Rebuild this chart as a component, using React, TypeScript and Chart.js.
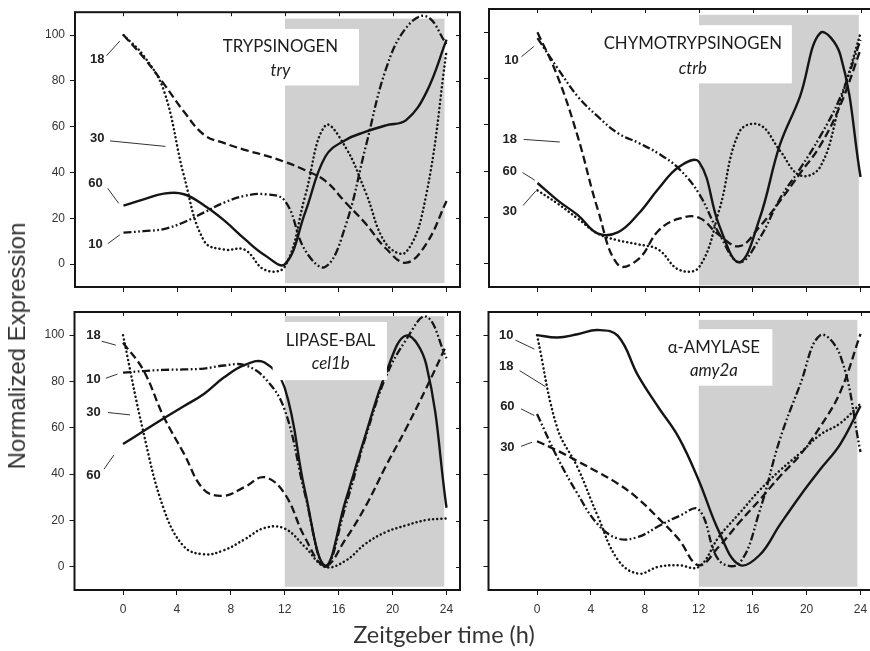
import React, { useEffect, useRef } from "react";
import { Chart, registerables } from "chart.js";

Chart.register(...registerables);

// ---------- data ----------
const hours = [0, 1.5, 3, 4.5, 6, 7.5, 9, 10.5, 12, 13.5, 15, 16.5, 18, 19.5, 21, 22.5, 24];
const xTickValues = [0, 4, 8, 12, 16, 20, 24];
const yTickValues = [0, 20, 40, 60, 80, 100];
const seriesNames = ["10", "18", "30", "60"];

// TRYPSINOGEN (try)
const try10 = [13.7, 14.4, 15.3, 18.3, 22.6, 26.9, 29.8, 30.5, 27.6, 6, -1.2, 16.8, 51.4, 85.2, 103.2, 108.2, 96];
const try18 = [100, 90.2, 78.7, 66.5, 56.4, 52.8, 49.9, 47.5, 44.6, 41, 36.3, 26.9, 17.6, 6.8, 0.6, 8.9, 27.6];
const try30 = [100, 91, 75.8, 38.4, 10, 6.3, 6.3, -2.5, -1, 29.8, 60.5, 51, 31.2, 8.9, 5.3, 30.5, 93];
const try60 = [25.5, 28.3, 30.8, 30.5, 25.6, 19, 11, 3.9, 0, 22.6, 47, 54.2, 57.8, 60.6, 62.9, 75, 98];

// CHYMOTRYPSINOGEN (ctrb)
const ctrb10 = [97.4, 84.4, 72.2, 63.5, 56.3, 52.2, 47.6, 41.1, 30.3, 13, 0.7, 11, 28, 41, 55, 72, 96.7];
const ctrb18 = [100, 80.8, 54.8, 23.1, -0.5, 2, 14.4, 19.5, 19.9, 12.4, 7.6, 16, 27, 39, 51, 68.5, 92.5];
const ctrb30 = [31.7, 26, 19.5, 13, 10.1, 8.4, 6.1, -2.5, -1.5, 23.1, 57, 60, 49, 38.2, 41.8, 70, 99.6];
const ctrb60 = [34.9, 27.4, 21, 13, 13.7, 21.6, 32.5, 41.8, 44, 16.6, 0.7, 19.5, 51.2, 72.2, 99.6, 90.2, 37.5];

// LIPASE-BAL (cel1b)
const cel10 = [83.8, 84.5, 85, 85.2, 85.6, 86.9, 87.1, 81.6, 67.7, 31.3, 0, 26, 56, 82, 98, 108, 90];
const cel18 = [96.7, 85, 65, 49.1, 33.3, 30.7, 34.4, 38.7, 31.5, 12.6, 0.5, 11.9, 26.2, 43.5, 59.7, 77.2, 95.8];
const cel30 = [100, 58.4, 25.4, 8.9, 5.4, 7.2, 11.8, 16.8, 16.5, 8.6, 0, 2.6, 10, 15, 17.9, 20.2, 20.9];
const cel60 = [53, 58.5, 64, 69.3, 74.6, 81.8, 87.1, 88.2, 77.2, 32.7, 0.5, 28.4, 57.1, 83.6, 99.8, 87.2, 25.5];

// alpha-AMYLASE (amy2a)
const amy10 = [100, 99, 100.4, 102.2, 99.7, 82.5, 68.9, 56, 37.3, 15.2, 0.9, 5, 18, 30.5, 42, 53, 69.5];
const amy18 = [100, 60, 43, 22, 3, -2.9, 0, 0.7, 0, 13, 23, 33, 41.5, 49, 57, 62, 70.5];
const amy30 = [54.2, 50.2, 45.6, 40.9, 35.9, 29.4, 21, 12, 0.7, 8.8, 19.1, 28.8, 38.9, 48.2, 60.4, 75.5, 100.6];
const amy60 = [66, 47.3, 31.6, 18.4, 12.2, 12.9, 17.5, 21.8, 24.7, 2.8, 1.5, 23.8, 54.7, 78.3, 99.9, 91.2, 49.6];

// ---------- styling / layout ----------
const CW = 880;
const CH = 651;
const INK = "#151515";
const SHADE = "#d0d0d0";
const TICK_FONT = "'Liberation Sans', Arial, sans-serif";
const TITLE_FONT = "Lato, 'Open Sans', sans-serif";

type LineStyle = "solid" | "dash" | "dot" | "dashdot";
const STYLES: Record<LineStyle, any> = {
  solid: { borderWidth: 2.4, borderDash: [], borderCapStyle: "butt" },
  dash: { borderWidth: 2.3, borderDash: [8, 4], borderCapStyle: "butt" },
  dot: { borderWidth: 2.5, borderDash: [0.1, 4.1], borderCapStyle: "round" },
  dashdot: { borderWidth: 2.3, borderDash: [8, 2.5, 1.8, 2.5, 1.8, 2.5], borderCapStyle: "butt" },
};

type Tag = { t: string; at: [number, number]; line: [number, number, number, number] };
type PanelCfg = {
  id: string;
  title: string;
  gene: string;
  series: Record<string, number[]>;
  styles: Record<string, LineStyle>;
  area: { left: number; top: number; right: number; bottom: number };
  xLabels: boolean;
  yLabels: boolean;
  titleAt: [number, number];
  geneAt: [number, number];
  box: [number, number, number, number];
  shade: [number, number, number, number];
  tags: Tag[];
};

const panels: PanelCfg[] = [
  {
    id: "try",
    title: "TRYPSINOGEN",
    gene: "try",
    series: { "10": try10, "18": try18, "30": try30, "60": try60 },
    styles: { "10": "dashdot", "18": "dash", "30": "dot", "60": "solid" },
    area: { left: 75, top: 9, right: 460, bottom: 287 },
    xLabels: false,
    yLabels: true,
    titleAt: [11.66, 95],
    geneAt: [11.66, 84.6],
    box: [5.8, 17.5, 78, 102.7],
    shade: [12, 23.85, -8.3, 107.2],
    tags: [
      { t: "18", at: [-1.95, 89.5], line: [-1.26, 91, -0.27, 97.4] },
      { t: "30", at: [-1.95, 54.7], line: [-1.0, 53.8, 3.12, 51.4] },
      { t: "60", at: [-2.08, 35.1], line: [-1.17, 33.1, -0.35, 26.5] },
      { t: "10", at: [-2.08, 8.5], line: [-1.17, 8.9, -0.27, 12.8] },
    ],
  },
  {
    id: "ctrb",
    title: "CHYMOTRYPSINOGEN",
    gene: "ctrb",
    series: { "10": ctrb10, "18": ctrb18, "30": ctrb30, "60": ctrb60 },
    styles: { "10": "dashdot", "18": "dash", "30": "dot", "60": "solid" },
    area: { left: 489, top: 9, right: 874, bottom: 287 },
    xLabels: false,
    yLabels: false,
    titleAt: [11.54, 95.2],
    geneAt: [11.54, 84.4],
    box: [4.2, 18.9, 77.9, 103],
    shade: [12, 23.87, -9.3, 107.5],
    tags: [
      { t: "10", at: [-1.93, 87.7], line: [-1.19, 89.4, -0.27, 93.8] },
      { t: "18", at: [-2.06, 53.7], line: [-1.02, 53.7, 1.66, 52.6] },
      { t: "60", at: [-2.06, 39.7], line: [-1.11, 39.4, -0.2, 36.1] },
      { t: "30", at: [-2.06, 22.6], line: [-1.07, 25.2, -0.13, 31.4] },
    ],
  },
  {
    id: "cel1b",
    title: "LIPASE-BAL",
    gene: "cel1b",
    series: { "10": cel10, "18": cel18, "30": cel30, "60": cel60 },
    styles: { "10": "dashdot", "18": "dash", "30": "dot", "60": "solid" },
    area: { left: 74.5, top: 312, right: 460, bottom: 590 },
    xLabels: true,
    yLabels: true,
    titleAt: [15.4, 97.8],
    geneAt: [15.4, 87.8],
    box: [11.1, 19.58, 80.6, 105.7],
    shade: [12, 23.83, -8.6, 108.2],
    tags: [
      { t: "18", at: [-2.19, 100], line: [-1.58, 97.4, -0.54, 95.7] },
      { t: "10", at: [-2.19, 81], line: [-1.28, 81.4, -0.41, 83.2] },
      { t: "30", at: [-2.19, 66.6], line: [-1.11, 66.6, 0.52, 65.6] },
      { t: "60", at: [-2.19, 39.4], line: [-1.41, 42.2, -0.67, 48.3] },
    ],
  },
  {
    id: "amy2a",
    title: "\u03b1-AMYLASE",
    gene: "amy2a",
    series: { "10": amy10, "18": amy18, "30": amy30, "60": amy60 },
    styles: { "10": "solid", "18": "dot", "30": "dash", "60": "dashdot" },
    area: { left: 488.5, top: 312, right: 874, bottom: 590 },
    xLabels: true,
    yLabels: false,
    titleAt: [13.12, 94.7],
    geneAt: [13.12, 84.7],
    box: [8.8, 17.46, 78.2, 102.6],
    shade: [12, 23.77, -8.6, 106.6],
    tags: [
      { t: "10", at: [-2.28, 100], line: [-1.61, 97.9, -0.2, 94] },
      { t: "18", at: [-2.28, 86.4], line: [-1.29, 84.7, 0.62, 77.8] },
      { t: "60", at: [-2.2, 69.2], line: [-1.19, 68.2, -0.2, 65.3] },
      { t: "30", at: [-2.2, 51.7], line: [-1.19, 52, -0.37, 53.8] },
    ],
  },
];

const Y_AXIS_W = 60;
const X_AXIS_H = 30;

function makeChart(canvas: HTMLCanvasElement, cfg: PanelCfg) {
  const { area } = cfg;
  const decor = {
    id: "decor_" + cfg.id,
    beforeDatasetsDraw(chart: any) {
      const { ctx } = chart;
      const x = chart.scales.x;
      const y = chart.scales.y;
      const [sx0, sx1, sy0, sy1] = cfg.shade;
      const L = x.getPixelForValue(sx0);
      const R = x.getPixelForValue(sx1);
      const T = y.getPixelForValue(sy1);
      const B = y.getPixelForValue(sy0);
      ctx.save();
      ctx.fillStyle = SHADE;
      ctx.fillRect(L, T, R - L, B - T);
      ctx.restore();
    },
    afterDatasetsDraw(chart: any) {
      const { ctx, chartArea } = chart;
      const x = chart.scales.x;
      const y = chart.scales.y;
      ctx.save();
      // white title box
      const [bx0, bx1, by0, by1] = cfg.box;
      const L = x.getPixelForValue(bx0);
      const R = x.getPixelForValue(bx1);
      const T = y.getPixelForValue(by1);
      const B = y.getPixelForValue(by0);
      ctx.fillStyle = "#ffffff";
      ctx.fillRect(L, T, R - L, B - T);
      ctx.fillStyle = "#1c1c1c";
      ctx.textAlign = "center";
      ctx.textBaseline = "middle";
      ctx.font = `16.8px ${TITLE_FONT}`;
      ctx.fillText(cfg.title, x.getPixelForValue(cfg.titleAt[0]), y.getPixelForValue(cfg.titleAt[1]));
      ctx.font = `italic 16.8px ${TITLE_FONT}`;
      ctx.fillText(cfg.gene, x.getPixelForValue(cfg.geneAt[0]), y.getPixelForValue(cfg.geneAt[1]));

      // series tags with leader lines
      ctx.strokeStyle = "#333";
      ctx.lineWidth = 1;
      ctx.font = `bold 13px ${TICK_FONT}`;
      ctx.fillStyle = "#222";
      for (const tag of cfg.tags) {
        ctx.fillText(tag.t, x.getPixelForValue(tag.at[0]), y.getPixelForValue(tag.at[1]));
        ctx.beginPath();
        ctx.moveTo(x.getPixelForValue(tag.line[0]), y.getPixelForValue(tag.line[1]));
        ctx.lineTo(x.getPixelForValue(tag.line[2]), y.getPixelForValue(tag.line[3]));
        ctx.stroke();
      }

      // frame
      ctx.strokeStyle = INK;
      ctx.lineWidth = 2;
      ctx.strokeRect(chartArea.left, chartArea.top, chartArea.right - chartArea.left, chartArea.bottom - chartArea.top);

      // inner ticks on top and right
      ctx.lineWidth = 1;
      ctx.beginPath();
      for (const v of xTickValues) {
        const px = Math.round(x.getPixelForValue(v)) + 0.5;
        ctx.moveTo(px, chartArea.top);
        ctx.lineTo(px, chartArea.top + 4);
      }
      for (const v of yTickValues) {
        const py = Math.round(y.getPixelForValue(v)) + 0.5;
        ctx.moveTo(chartArea.right, py);
        ctx.lineTo(chartArea.right - 4, py);
      }
      ctx.stroke();
      ctx.restore();
    },
  };

  const datasets = seriesNames.map((name) => {
    const vals = cfg.series[name];
    const st = STYLES[cfg.styles[name]];
    return {
      label: name,
      data: hours.map((h, i) => ({ x: h, y: vals[i] })),
      borderColor: INK,
      backgroundColor: INK,
      borderWidth: st.borderWidth,
      borderDash: st.borderDash,
      borderCapStyle: st.borderCapStyle,
      borderJoinStyle: "round",
      pointRadius: 0,
      pointHoverRadius: 0,
      tension: 0.4,
      fill: false,
    };
  });

  return new Chart(canvas, {
    type: "line",
    data: { datasets } as any,
    options: {
      responsive: false,
      animation: false,
      events: [],
      layout: {
        padding: {
          left: area.left - Y_AXIS_W,
          top: area.top,
          right: CW - area.right,
          bottom: CH - area.bottom - X_AXIS_H,
        },
      },
      plugins: {
        legend: { display: false },
        tooltip: { enabled: false },
        title: { display: false },
      },
      scales: {
        x: {
          type: "linear",
          min: -3.6,
          max: 25,
          afterBuildTicks: (s: any) => {
            s.ticks = xTickValues.map((v) => ({ value: v }));
          },
          afterFit: (s: any) => {
            s.height = X_AXIS_H;
          },
          ticks: {
            display: cfg.xLabels,
            autoSkip: false,
            maxRotation: 0,
            padding: 7,
            color: "#333",
            font: { family: TICK_FONT, size: 12 },
          },
          grid: {
            display: true,
            drawOnChartArea: false,
            drawTicks: true,
            tickLength: 5,
            color: INK,
            lineWidth: 1,
          },
          border: { display: false },
        },
        y: {
          type: "linear",
          min: -10,
          max: 110,
          afterBuildTicks: (s: any) => {
            s.ticks = yTickValues.map((v) => ({ value: v }));
          },
          afterFit: (s: any) => {
            s.width = Y_AXIS_W;
          },
          ticks: {
            display: cfg.yLabels,
            autoSkip: false,
            padding: 5,
            color: "#333",
            font: { family: TICK_FONT, size: 12 },
          },
          grid: {
            display: true,
            drawOnChartArea: false,
            drawTicks: true,
            tickLength: 5,
            color: INK,
            lineWidth: 1,
          },
          border: { display: false },
        },
      },
    } as any,
    plugins: [decor],
  });
}

function Panel({ cfg }: { cfg: PanelCfg }) {
  const ref = useRef<HTMLCanvasElement | null>(null);
  useEffect(() => {
    if (!ref.current) return;
    const chart = makeChart(ref.current, cfg);
    return () => chart.destroy();
  }, [cfg]);
  return (
    <canvas
      ref={ref}
      width={CW}
      height={CH}
      style={{ position: "absolute", left: 0, top: 0, width: CW, height: CH }}
    />
  );
}

export default function App() {
  return (
    <div
      style={{
        position: "absolute",
        left: 0,
        top: 0,
        width: 870,
        height: 651,
        overflow: "hidden",
        background: "#ffffff",
      }}
    >
      {panels.map((p) => (
        <Panel key={p.id} cfg={p} />
      ))}
      <div
        style={{
          position: "absolute",
          left: 17,
          top: 346,
          transform: "translate(-50%, -50%) rotate(-90deg)",
          fontFamily: TICK_FONT,
          fontSize: 24,
          color: "#333",
          whiteSpace: "nowrap",
          lineHeight: "24px",
        }}
      >
        Normalized Expression
      </div>
      <div
        style={{
          position: "absolute",
          left: 444,
          top: 623,
          transform: "translateX(-50%)",
          fontFamily: TITLE_FONT,
          fontSize: 23.5,
          color: "#333",
          whiteSpace: "nowrap",
          lineHeight: "23.5px",
        }}
      >
        Zeitgeber time (h)
      </div>
    </div>
  );
}
